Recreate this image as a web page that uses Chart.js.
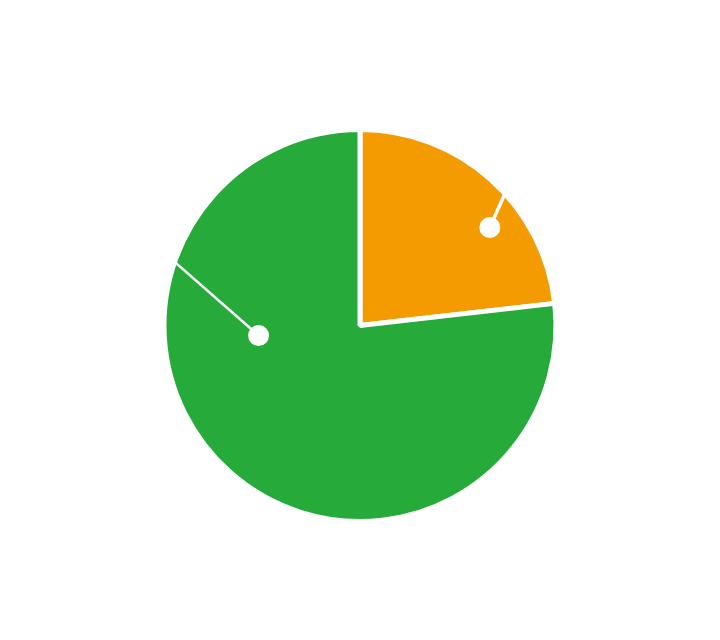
<!DOCTYPE html>
<html>
<head>
<meta charset="utf-8">
<script src="https://cdn.jsdelivr.net/npm/chart.js@4"></script>
<style>
  body { margin: 0; background: #fff; }
  #wrap { width: 720px; height: 640px; }
</style>
</head>
<body>
<div id="wrap"><canvas id="pieChart" width="720" height="640"></canvas></div>
<script>
// Dados do gráfico
const categories = ["Parte A", "Parte B"];
const values = [23.2, 76.8];
const sliceColors = ["#f39b00", "#26ab3b"];

// Posição dos marcadores (fração do ângulo da fatia / fração do raio)
const markerAngle = [0.634, 0.654];
const markerRadius = [0.83, 0.52];
const leaderAngle = [0.571, 0.743];
const leaderWidth = [3.5, 2.5];

// Desenha ponto branco e linha guia em cada fatia
const leaderPlugin = {
    id: "leaderDots",
    afterDatasetsDraw(chart) {
        const ctx = chart.ctx;
        const meta = chart.getDatasetMeta(0);
        meta.data.forEach((arc, i) => {
            const p = arc.getProps(["x", "y", "startAngle", "endAngle", "outerRadius"], true);
            const span = p.endAngle - p.startAngle;
            const a1 = p.startAngle + span * markerAngle[i];
            const a2 = p.startAngle + span * leaderAngle[i];
            const dx = p.x + Math.cos(a1) * p.outerRadius * markerRadius[i];
            const dy = p.y + Math.sin(a1) * p.outerRadius * markerRadius[i];
            const ex = p.x + Math.cos(a2) * p.outerRadius;
            const ey = p.y + Math.sin(a2) * p.outerRadius;
            ctx.save();
            ctx.strokeStyle = "#fff";
            ctx.lineWidth = leaderWidth[i];
            ctx.beginPath();
            ctx.moveTo(dx, dy);
            ctx.lineTo(ex, ey);
            ctx.stroke();
            ctx.fillStyle = "#fff";
            ctx.beginPath();
            ctx.arc(dx, dy, 10.5, 0, Math.PI * 2);
            ctx.fill();
            ctx.restore();
        });
    },
};

const pieChart = new Chart(document.getElementById("pieChart"), {
    type: "pie",
    data: {
        labels: categories,
        datasets: [
            {
                data: values,
                backgroundColor: sliceColors,
                borderColor: "#fff",
                borderWidth: 5,
            },
        ],
    },
    options: {
        responsive: false,
        animation: false,
        layout: {
            padding: { top: 127, bottom: 116, left: 0, right: 0 },
        },
        plugins: {
            legend: { display: false },
            tooltip: { enabled: false },
        },
    },
    plugins: [leaderPlugin],
});
</script>
</body>
</html>
